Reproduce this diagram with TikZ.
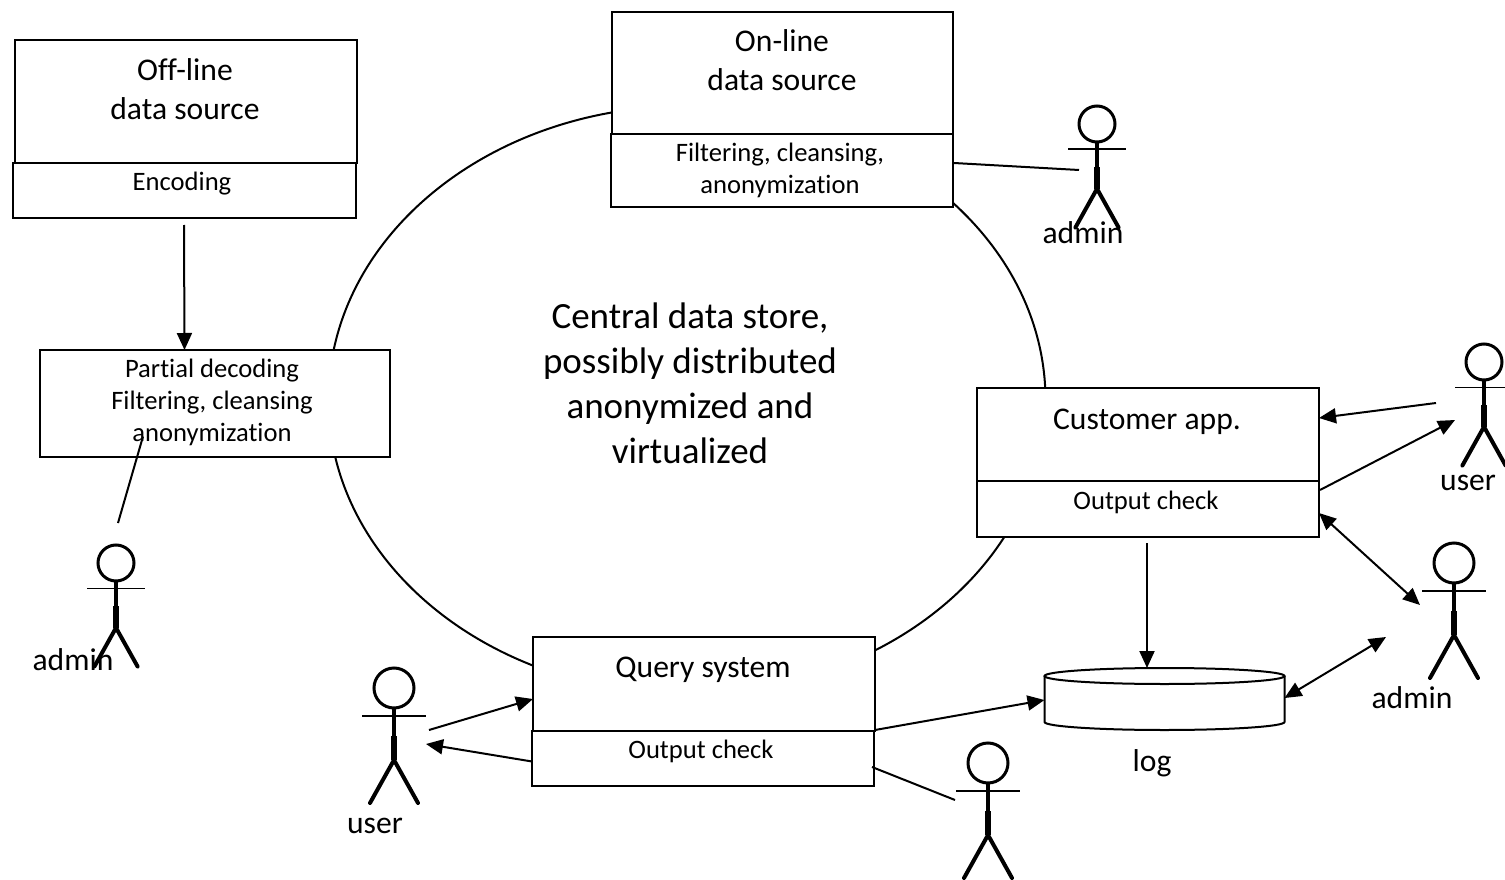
\documentclass[tikz,border=0pt]{standalone}
\usepackage{fontspec}
\setmainfont[Ligatures=NoCommon]{Carlito}
\usetikzlibrary{arrows.meta,shapes.geometric}
\tikzset{
  x=1pt,y=-1pt,
  boxn/.style={draw=black,line width=2pt,fill=white,rectangle,inner sep=0pt,outer sep=0pt},
  big/.style={inner sep=0pt,align=center,font=\fontsize{31.6}{39}\selectfont},
  small/.style={inner sep=0pt,align=center,font=\fontsize{26.6}{32}\selectfont},
  huge/.style={inner sep=0pt,align=center,font=\fontsize{37}{45}\selectfont},
  conn/.style={line width=2pt,draw=black},
  arr/.style={conn,-{Triangle[length=17pt,width=15pt]}},
  dbl/.style={conn,{Triangle[length=17pt,width=15pt]}-{Triangle[length=17pt,width=15pt]}},
  pics/actor/.style={code={
    \draw[line width=3pt] (0,0) circle (20);
    \draw[line width=1.4pt] (-32,28) -- (32,28);
    \draw[line width=3.5pt] (0,20) -- (0,48);
    \draw[line width=5.5pt] (0,48) -- (0,72);
    \draw[line width=4pt,line cap=round,line join=miter] (-24,115) -- (0,72) -- (24,115);
  }}
}
\begin{document}
\begin{tikzpicture}
\useasboundingbox (0,0) rectangle (1505,880);
% central store
\node[draw=black,line width=2pt,ellipse,minimum width=717pt,minimum height=588pt,inner sep=0pt,outer sep=0pt] (store) at (687,400) {};
% boxes
\node[boxn,minimum width=342pt,minimum height=123pt] (offtop) at (186,101.5) {};
\node[boxn,minimum width=343pt,minimum height=55pt] (offlow) at (184.5,190.5) {};
\node[boxn,minimum width=341pt,minimum height=122pt] (ontop) at (782.5,73) {};
\node[boxn,minimum width=342pt,minimum height=73pt] (onlow) at (782,170.5) {};
\node[boxn,minimum width=350pt,minimum height=107pt] (partial) at (215,403.5) {};
\node[boxn,minimum width=342pt,minimum height=93pt] (custtop) at (1148,434.5) {};
\node[boxn,minimum width=342pt,minimum height=56pt] (custlow) at (1148,509) {};
\node[boxn,minimum width=342pt,minimum height=94pt] (querytop) at (704,684) {};
\node[boxn,minimum width=342pt,minimum height=55pt] (querylow) at (703,758.5) {};
% log
\node[inner sep=0pt,outer sep=0pt,minimum width=240pt,minimum height=62pt] (logdb) at (1164.5,699) {};
\draw[line width=2pt,fill=white] (1044.5,676) -- (1044.5,722) arc[start angle=180,end angle=0,x radius=120,y radius=8] -- (1284.5,676);
\draw[line width=2pt] (1164.5,676) ellipse[x radius=120,y radius=8];
% actors
\pic (a1) at (1097,124) [scale=.9] {actor};
\pic (a2) at (1454,563) {actor};
\pic (a3) at (1484,362) [scale=.9] {actor};
\pic (a4) at (394,688) {actor};
\pic (a5) at (116,563) [scale=.9] {actor};
\pic (a6) at (988,763) {actor};
% free ends
\coordinate (a1hand) at (1079,170);
\coordinate (a2up) at (1420,605);
\coordinate (a2lo) at (1386,637);
\coordinate (a3in) at (1436,403);
\coordinate (a3out) at (1455,420);
\coordinate (a4out) at (429,730);
\coordinate (a4in) at (426,744);
\coordinate (a5hand) at (118,523);
\coordinate (a6hand) at (955,800);
% connectors
\draw[arr] ([shift={(-0.5,7)}]offlow.south) -- (partial.north -| offlow.south);
\draw[conn] ([shift={(1,-7.5)}]onlow.east) -- (a1hand);
\draw[arr] (a3in) -- ([shift={(0,-16.5)}]custtop.east);
\draw[arr] ([shift={(1,-19)}]custlow.east) -- (a3out);
\draw[dbl] ([shift={(0,4)}]custlow.east) -- (a2up);
\draw[arr] ([shift={(-1,6)}]custlow.south) -- ([shift={(-17.5,0)}]logdb.north);
\draw[dbl] ([shift={(0,-1)}]logdb.east) -- (a2lo);
\draw[arr] (a4out) -- ([shift={(0,15)}]querytop.west);
\draw[arr] ([shift={(0,3)}]querylow.west) -- (a4in);
\draw[arr] ([shift={(0,46)}]querytop.east) -- ([shift={(0,1)}]logdb.west);
\draw[conn] ([shift={(-2,8.5)}]querylow.east) -- (a6hand);
% texts
\node[big] (t1) at (185,89) {Off-line\\data source};
\node[small] (t2) at (182,183.5) {Encoding};
\node[big] (t3) at (782,60) {On-line\\data source};
\node[small] (t4) at (780,170) {Filtering, cleansing,\\anonymization};
\node[small] (t5) at (212,402) {Partial decoding\\Filtering, cleansing\\anonymization};
\node[huge] (t6) at (690,383) {Central data store,\\possibly distributed\\anonymized and\\virtualized};
\node[big] (t7) at (1147,422) {Customer app.};
\node[small] (t8) at (1146,502.5) {Output check};
\node[big] (t9) at (703,670) {Query system};
\node[small] (t10) at (701,751.5) {Output check};
\node[big] (t11) at (1152,763) {log};
\node[big] (t12) at (1083,233) {admin};
\node[big] (t13) at (1412,698) {admin};
\node[big] (t14) at (1468,483) {user};
\node[big] (t15) at (375,826) {user};
\node[big] (t16) at (73,660) {admin};
\draw[conn] (a5hand) -- ([shift={(-72,33)}]partial.center);
\end{tikzpicture}
\end{document}
